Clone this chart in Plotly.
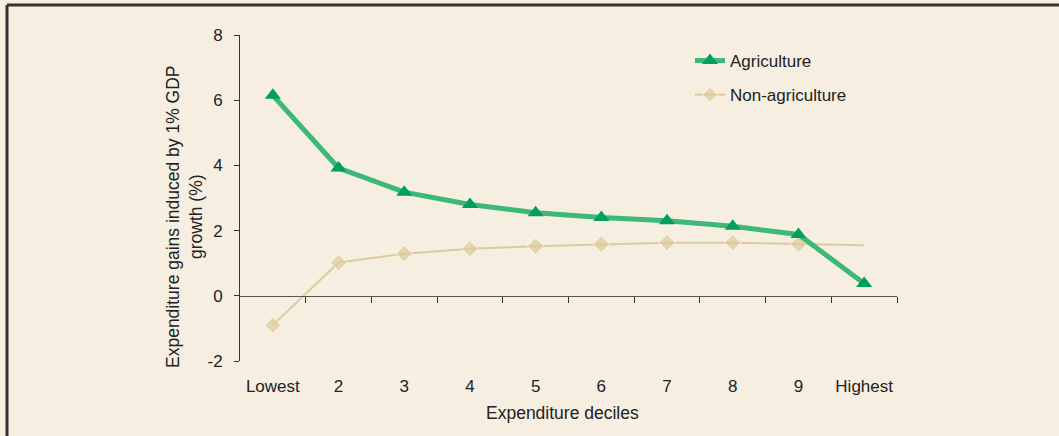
import plotly.graph_objects as go

categories = ["Lowest", "2", "3", "4", "5", "6", "7", "8", "9", "Highest"]
agriculture = [6.15, 3.92, 3.18, 2.8, 2.55, 2.4, 2.3, 2.13, 1.88, 0.38]
non_agriculture = [-0.9, 1.02, 1.29, 1.44, 1.52, 1.58, 1.63, 1.63, 1.58, 1.55]
y_ticks = [-2, 0, 2, 4, 6, 8]
y_tick_labels = ["-2", "0", "2", "4", "6", "8"]

BG = "#F5EEE1"
GREEN_LINE = "#3DB877"
GREEN_MARK = "#00A05A"
BEIGE = "#DECB9B"
FONT = "Liberation Sans, Arial, sans-serif"

W, H = 1059, 436
L, R, T, B = 240, 162, 35, 75
pw, ph = W - L - R, H - T - B

xs = list(range(len(categories)))

fig = go.Figure()
fig.add_trace(go.Scatter(
    x=xs, y=non_agriculture, name="Non-agriculture", mode="lines+markers",
    line=dict(color=BEIGE, width=2),
    marker=dict(symbol="diamond", color=BEIGE,
                size=[13] * (len(xs) - 1) + [0]),
    legendgroup="b", legendrank=2,
))
fig.add_trace(go.Scatter(
    x=xs, y=agriculture, name="Agriculture", mode="lines+markers",
    line=dict(color=GREEN_LINE, width=5),
    marker=dict(symbol="triangle-up", color=GREEN_MARK, size=14),
    legendgroup="a", legendrank=1,
))

# axis line at y=0 with boundary ticks (overlay axis)
fig.add_trace(go.Scatter(x=[-0.5, 9.5], y=[0, 0], xaxis="x2", mode="lines",
                         line=dict(width=0), showlegend=False, hoverinfo="skip"))

fig.update_layout(
    width=W, height=H,
    margin=dict(l=L, r=R, t=T, b=B),
    paper_bgcolor=BG, plot_bgcolor=BG,
    font=dict(family=FONT, size=17, color="#222222"),
    showlegend=True,
    legend=dict(x=(690 - L) / pw, y=1 - (43 - T) / ph, xanchor="left", yanchor="top",
                bgcolor="rgba(0,0,0,0)", font=dict(size=17),
                tracegroupgap=9, traceorder="grouped"),
    xaxis=dict(
        range=[-0.5, 9.5], tickmode="array", tickvals=xs, ticktext=categories,
        showgrid=False, zeroline=False, showline=False,
        ticks="outside", ticklen=10, tickcolor="rgba(0,0,0,0)",
        tickfont=dict(size=17),
    ),
    xaxis2=dict(
        overlaying="x", anchor="free", position=2 / 10, range=[-0.5, 9.5],
        tickmode="array", tickvals=[i + 0.5 for i in xs], showticklabels=False,
        showgrid=False, zeroline=False, showline=True, linecolor="#555555",
        linewidth=1.3, ticks="outside", ticklen=6, tickcolor="#333333", tickwidth=1,
    ),
    yaxis=dict(
        range=[-2, 8], tickmode="array", tickvals=y_ticks, ticktext=y_tick_labels,
        showgrid=False, zeroline=False, showline=True, linecolor="#333333",
        linewidth=1, ticks="outside", ticklen=5, tickcolor="#333333",
        tickfont=dict(size=17), ticklabelstandoff=8,
    ),
    annotations=[
        dict(text="Expenditure gains induced by 1% GDP<br>growth (%)",
             xref="paper", yref="paper", x=(184 - L) / pw, y=1 - (217 - T) / ph,
             textangle=-90, showarrow=False, font=dict(size=17.5),
             xanchor="center", yanchor="middle"),
        dict(text="Expenditure deciles", xref="paper", yref="paper",
             x=(562 - L) / pw, y=1 - (413 - T) / ph, showarrow=False,
             font=dict(size=17.5), xanchor="center", yanchor="middle"),
    ],
    shapes=[
        dict(type="line", xref="paper", yref="paper",
             x0=(7 - L) / pw, x1=(W - L + 5) / pw, y0=1 + (T - 5) / ph, y1=1 + (T - 5) / ph,
             line=dict(color="#333333", width=3)),
        dict(type="line", xref="paper", yref="paper",
             x0=(7 - L) / pw, x1=(7 - L) / pw, y0=1 + (T - 5) / ph, y1=-(B + 5) / ph,
             line=dict(color="#333333", width=3)),
    ],
)

fig.write_html("out.html", config={"displayModeBar": False},
               post_script="document.body.style.margin='0';")
